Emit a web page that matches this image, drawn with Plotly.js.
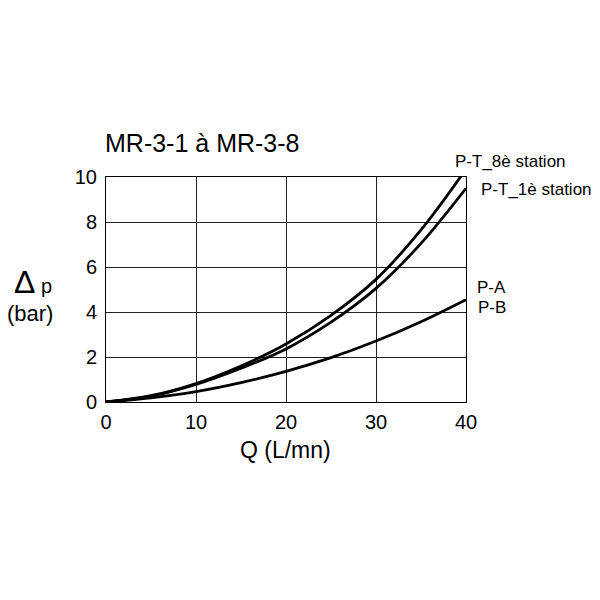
<!DOCTYPE html>
<html>
<head>
<meta charset="utf-8">
<script src="https://cdn.plot.ly/plotly-3.0.1.min.js"></script>
<style>html,body{margin:0;padding:0;background:#fff;}#chart{width:600px;height:600px;}</style>
</head>
<body>
<div id="chart"></div>
<script>
const flowQ = [0, 5, 10, 15, 20, 25, 30, 35, 40];
const pt8 = [0, 0.28, 0.82, 1.6, 2.58, 3.85, 5.45, 7.65, 10.35];
const pt1 = [0, 0.26, 0.78, 1.5, 2.36, 3.55, 5.05, 7.05, 9.5];
const pab = [0, 0.18, 0.46, 0.86, 1.36, 1.97, 2.71, 3.57, 4.55];
const xTicks = [0, 10, 20, 30, 40];
const yTicks = [0, 2, 4, 6, 8, 10];

const font = 'Liberation Sans, Arial, sans-serif';
const line = {color: '#000', width: 2.8, shape: 'spline', smoothing: 1};
const traces = [
  {x: flowQ, y: pt8, mode: 'lines', line: line, name: 'P-T_8è station'},
  {x: flowQ, y: pt1, mode: 'lines', line: line, name: 'P-T_1è station'},
  {x: flowQ, y: pab, mode: 'lines', line: line, name: 'P-A / P-B'}
];
const ann = (text, x, y, size, xanchor) => ({text, x, y, xref: 'paper', yref: 'paper', showarrow: false, xanchor: xanchor || 'left', yanchor: 'middle', font: {family: font, size, color: '#000'}});
const layout = {
  width: 600, height: 600,
  margin: {l: 106, r: 134, t: 177, b: 198},
  paper_bgcolor: '#fff', plot_bgcolor: '#fff',
  showlegend: false,
  title: {text: 'MR-3-1 à MR-3-8', x: 105/600, xref: 'container', xanchor: 'left', y: 1 - 143/600, yref: 'container', yanchor: 'middle', font: {family: font, size: 25, color: '#000'}},
  xaxis: {range: [0, 40], tickvals: xTicks, ticktext: xTicks.map(String), showgrid: true, gridcolor: '#222', gridwidth: 1, zeroline: false, showline: true, linecolor: '#000', linewidth: 1, mirror: true, ticks: '', ticklabelstandoff: 2, tickfont: {family: font, size: 20, color: '#000'}, fixedrange: true},
  yaxis: {range: [0, 10], tickvals: yTicks, ticktext: yTicks.map(String), showgrid: true, gridcolor: '#222', gridwidth: 1, zeroline: false, showline: true, linecolor: '#000', linewidth: 1, mirror: true, ticks: '', ticklabelstandoff: 4, tickfont: {family: font, size: 20, color: '#000'}, fixedrange: true},
  annotations: [
    ann('P-T_8è station', (453 - 106) / 360, (402 - 161) / 225, 17),
    ann('P-T_1è station', (479 - 106) / 360, (402 - 189) / 225, 17),
    ann('P-A', (475 - 106) / 360, (402 - 287) / 225, 17),
    ann('P-B', (476 - 106) / 360, (402 - 307) / 225, 17),
    ann('Q (L/mn)', (285 - 106) / 360, (402 - 450) / 225, 23, 'center'),
    ann('<span style="font-size:32px">Δ</span> p', (33 - 106) / 360, (402 - 282) / 225, 20, 'center'),
    ann('(bar)', (30 - 106) / 360, (402 - 313) / 225, 22, 'center')
  ]
};
Plotly.newPlot('chart', traces, layout, {displayModeBar: false, staticPlot: true});
</script>
</body>
</html>
